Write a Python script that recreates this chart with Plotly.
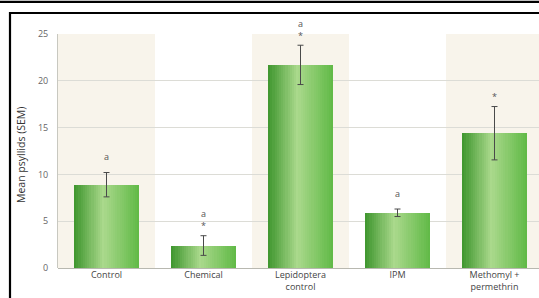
import plotly.graph_objects as go

categories = ["Control", "Chemical", "Lepidoptera<br>control", "IPM", "Methomyl +<br>permethrin"]
means = [8.9, 2.4, 21.7, 5.9, 14.4]
sems = [1.3, 1.05, 2.1, 0.4, 2.85]
letters = ["a", "a", "a", "a", ""]
stars = ["", "*", "*", "", "*"]
y_ticks = [0, 5, 10, 15, 20, 25]

W, H = 539, 298
L, T, B = 58, 34, 30
plot_w = W - L
plot_h = H - T - B

x = list(range(len(categories)))
bar_w = 0.67
n_strips = 30
stops = [(0.0, (62, 150, 45)), (0.45, (170, 217, 140)), (1.0, (96, 185, 70))]

def col(t):
    for (t0, c0), (t1, c1) in zip(stops[:-1], stops[1:]):
        if t0 <= t <= t1:
            f = (t - t0) / (t1 - t0)
            c = [round(a + (b - a) * f) for a, b in zip(c0, c1)]
            return f"rgb({c[0]},{c[1]},{c[2]})"
    return "rgb(96,185,70)"

fig = go.Figure()
sw = bar_w / n_strips
for k in range(n_strips):
    t = (k + 0.5) / n_strips
    fig.add_trace(go.Bar(
        x=x, y=means, width=sw * 1.15, offset=-bar_w / 2 + k * sw,
        marker=dict(color=col(t), line=dict(width=0)),
        showlegend=False, hoverinfo="skip",
    ))

fig.add_trace(go.Scatter(
    x=x, y=means, mode="markers", marker=dict(size=0.1, color="rgba(0,0,0,0)"),
    error_y=dict(type="data", array=sems, color="#4a4a4a", thickness=1, width=3),
    showlegend=False, hoverinfo="skip",
))

annotations = []
for i, (m, s, a, st) in enumerate(zip(means, sems, letters, stars)):
    top = m + s
    if st:
        annotations.append(dict(x=i, y=top, text=st, showarrow=False, yanchor="middle",
                                yshift=10, font=dict(size=9, color="#555555")))
    if a:
        annotations.append(dict(x=i, y=top, text=a, showarrow=False, yanchor="middle",
                                yshift=22 if st else 16, font=dict(size=9, color="#555555")))

shapes = []
for i in x:
    if i % 2 == 0:
        shapes.append(dict(type="rect", xref="x", yref="paper", x0=i - 0.5, x1=i + 0.5,
                           y0=0, y1=1, fillcolor="#f8f4eb", line=dict(width=0), layer="below"))

def px_x(p):
    return (p - L) / plot_w

def px_y(p):
    return (H - B - p) / plot_h

shapes.append(dict(type="line", xref="paper", yref="paper", x0=px_x(-5), x1=px_x(W + 5),
                   y0=px_y(1.8), y1=px_y(1.8), line=dict(color="black", width=2.2)))
shapes.append(dict(type="line", xref="paper", yref="paper", x0=px_x(9), x1=px_x(W + 5),
                   y0=px_y(13), y1=px_y(13), line=dict(color="black", width=2.2)))
shapes.append(dict(type="line", xref="paper", yref="paper", x0=px_x(10), x1=px_x(10),
                   y0=px_y(12), y1=px_y(H + 5), line=dict(color="black", width=2.2)))

annotations.append(dict(text="Mean psyllids (SEM)", textangle=-90, xref="paper", yref="paper",
                        x=px_x(21), y=px_y(155), showarrow=False,
                        font=dict(size=10.5, color="#333333"),
                        xanchor="center", yanchor="middle"))

fig.update_layout(
    width=W, height=H,
    margin=dict(l=L, r=0, t=T, b=B),
    paper_bgcolor="white", plot_bgcolor="white",
    barmode="overlay", bargap=0,
    font=dict(family="Open Sans", size=9, color="#333333"),
    shapes=shapes,
    annotations=annotations,
)
fig.update_xaxes(
    tickmode="array", tickvals=x, ticktext=categories,
    range=[-0.5, 4.5 - 4 / 97], showgrid=False, zeroline=False,
    showline=False, ticks="", tickfont=dict(size=9, color="#444444"),
)
fig.update_yaxes(
    range=[0, 25], tickvals=y_ticks, showgrid=True, gridcolor="#dcdcd6", gridwidth=1,
    zeroline=True, zerolinecolor="#b8b8b0", zerolinewidth=1,
    showline=True, linecolor="#c8c8c0", linewidth=1,
    ticks="", ticklabelstandoff=7, tickfont=dict(size=9, color="#666666"),
)
fig.write_html("out.html", config={"displayModeBar": False},
               post_script="document.body.style.margin='0';document.body.style.overflow='hidden';")
